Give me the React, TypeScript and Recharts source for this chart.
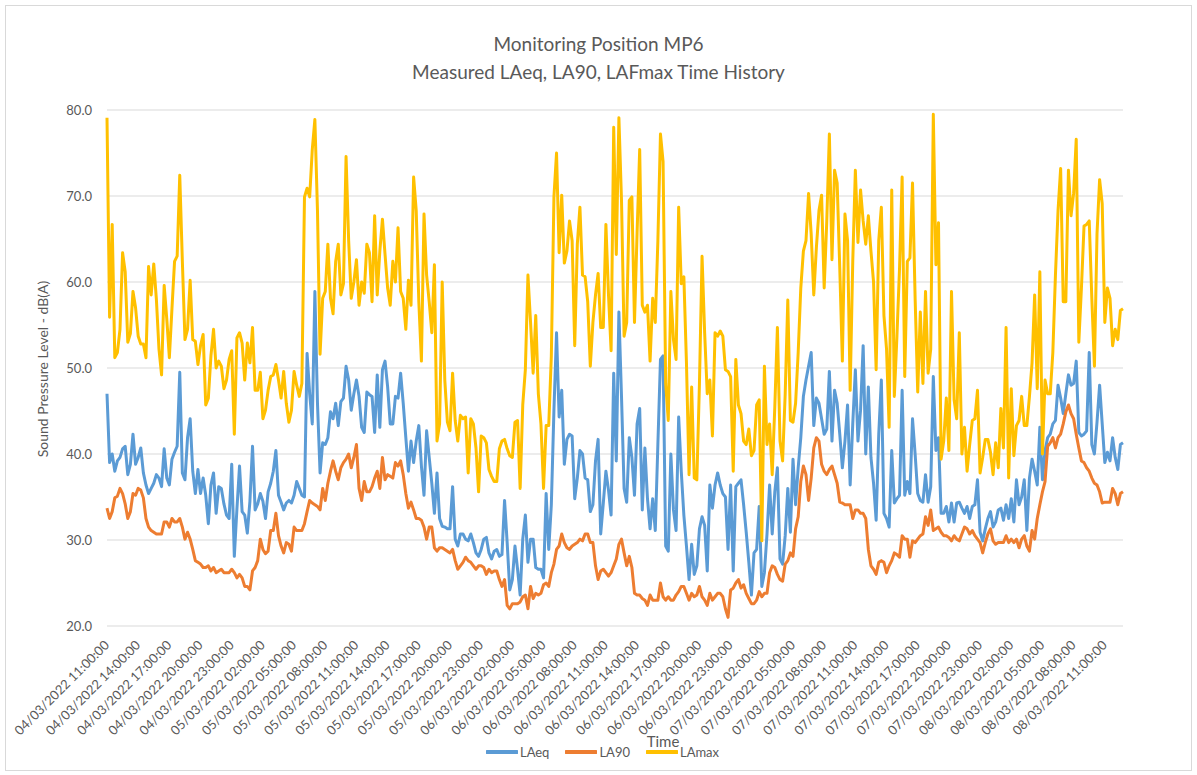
import React from 'react';
import { LineChart, Line, XAxis, YAxis, CartesianGrid } from 'recharts';

// 15-minute readings from 04/03/2022 11:00 to 08/03/2022 12:45
const START_DAY = 4;
const START_MIN = 11 * 60;
const STEP_MIN = 15;

const LAEQ = [
  47.0, 39.0, 40.0, 38.0, 39.2, 39.6, 40.6, 40.9, 37.6, 38.8, 42.3, 38.8,
  39.6, 40.7, 37.8, 36.4, 35.4, 36.0, 36.6, 37.6, 37.2, 36.2, 40.6, 37.2,
  36.4, 39.4, 40.2, 40.9, 49.5, 37.8, 37.0, 41.9, 44.1, 38.0, 35.4, 38.2,
  35.4, 37.2, 35.2, 31.9, 36.4, 37.8, 33.1, 36.2, 36.0, 34.2, 32.9, 32.5,
  38.8, 28.1, 33.6, 38.6, 33.3, 32.9, 30.8, 34.5, 40.9, 33.5, 34.2, 35.4,
  34.5, 32.5, 35.6, 36.6, 38.0, 40.4, 35.2,
  34.4, 33.5, 34.3, 34.6, 34.3, 35.2, 36.8, 36.0, 35.2, 35.0, 51.7, 47.0,
  43.5, 58.9, 45.9, 37.8, 41.3, 41.1, 41.9, 44.9, 44.1, 45.9, 43.3, 46.1,
  46.5, 50.2, 48.6, 45.1, 47.0, 48.6, 46.7, 43.1, 42.5, 47.2, 46.9, 46.7,
  42.5, 49.2, 43.1, 49.8, 50.8, 47.8, 43.5, 43.5, 46.7, 46.5, 49.4, 45.9,
  41.9, 38.0, 41.5, 39.0, 41.5, 43.3, 38.6, 35.2, 42.7, 39.6, 36.6, 33.1,
  37.8, 32.5, 31.6, 31.5, 31.3,
  31.3, 36.2, 30.1, 29.3, 30.7, 30.7, 30.1, 29.9, 30.7, 29.7, 28.5, 28.1,
  28.9, 30.1, 30.3, 28.5, 27.8, 28.7, 28.9, 28.1, 28.3, 34.6, 29.7, 24.2,
  25.4, 29.3, 26.6, 23.6, 30.1, 32.9, 27.4, 30.1, 30.1, 26.8, 26.6, 26.6,
  25.6, 35.4, 28.9, 34.1, 45.1, 54.1, 44.3, 47.4, 38.8, 41.7, 42.3, 42.1,
  34.8, 37.2, 40.4, 40.0, 37.2, 37.0, 33.3, 34.1, 39.2, 41.7, 30.7, 34.3,
  38.0, 35.8, 32.9, 49.4, 39.2, 56.5,
  46.7, 36.0, 34.4, 41.9, 39.6, 35.2, 43.5, 45.3, 33.5, 40.7, 34.8, 31.3,
  34.8, 31.1, 41.1, 51.0, 51.4, 29.3, 28.7, 40.0, 33.5, 31.1, 44.3, 38.0,
  32.9, 29.3, 25.4, 29.5, 26.0, 27.0, 31.3, 32.7, 31.7, 26.4, 36.4, 33.7,
  36.4, 37.8, 36.4, 35.4, 35.0, 28.9, 36.4, 26.4, 36.2, 36.6, 37.0, 34.1,
  30.9, 27.4, 23.6, 28.5, 28.9, 33.9, 24.6, 26.2, 30.7, 36.4, 30.7, 35.6,
  38.4, 27.8, 27.2, 30.5, 36.0,
  30.9, 39.4, 34.1, 38.4, 41.9, 46.7, 48.6, 50.2, 51.8, 43.3, 46.5, 45.9,
  44.1, 42.3, 42.9, 49.6, 41.5, 47.4, 45.9, 42.3, 38.4, 41.5, 45.7, 36.4,
  43.5, 49.8, 41.5, 45.1, 52.6, 40.0, 47.8, 39.6, 36.6, 32.3, 42.3, 48.6,
  33.1, 32.5, 31.5, 40.4, 34.3, 34.8, 35.2, 47.4, 35.2, 36.8, 35.4, 44.1,
  40.0, 35.4, 34.6, 34.4, 37.6, 34.4, 36.2, 49.0, 40.4, 41.9, 33.1, 33.1,
  33.9, 32.1, 34.3, 32.1, 34.3, 34.4,
  33.7, 33.1, 33.9, 32.5, 33.9, 34.1, 37.0, 30.9, 29.9, 31.3, 32.5, 33.3,
  31.5, 32.1, 33.5, 33.7, 32.3, 34.1, 32.5, 34.8, 32.1, 37.0, 34.1, 35.0,
  37.0, 31.1, 37.2, 39.4, 38.0, 36.4, 43.1, 37.0, 40.4, 41.9, 42.3, 43.5,
  43.9, 48.0, 46.5, 44.7, 47.0, 49.2, 48.0, 48.2, 50.8, 42.5, 42.1, 42.3,
  42.7, 51.8, 41.1, 40.0, 43.7, 48.0, 43.5, 39.0, 40.2, 39.2, 41.9, 39.6,
  38.2, 41.1, 41.3,
];

const LA90 = [
  33.7, 32.5, 33.3, 34.9, 35.1, 36.0, 35.4, 34.2, 32.5, 33.3, 35.4, 35.2,
  36.0, 35.8, 34.9, 32.5, 31.5, 31.1, 30.9, 30.7, 30.7, 30.7, 32.1, 32.1,
  31.5, 32.5, 32.1, 32.1, 32.5, 31.5, 30.1, 30.9, 30.1, 28.9, 27.6, 27.4,
  27.2, 26.8, 26.8, 27.0, 26.4, 26.8, 26.2, 26.4, 26.6, 26.2, 26.2, 26.2,
  26.6, 26.2, 25.6, 26.0, 25.6, 24.6, 24.6, 24.2, 26.4, 26.8, 27.6, 30.1,
  28.9, 28.4, 28.7, 31.1, 31.1, 33.1, 30.5,
  29.3, 28.5, 29.7, 29.5, 28.7, 31.5, 31.1, 31.1, 31.1, 31.9, 33.3, 34.6,
  34.3, 34.1, 33.9, 33.5, 36.0, 34.6, 36.6, 38.0, 39.2, 38.0, 37.0, 38.4,
  39.0, 39.4, 40.0, 38.4, 39.6, 41.1, 36.0, 34.6, 36.8, 35.6, 35.6, 36.2,
  37.2, 38.0, 36.0, 39.6, 37.0, 37.6, 37.4, 37.2, 39.0, 38.6, 39.2, 37.6,
  35.4, 33.7, 34.4, 33.5, 32.5, 32.5, 32.3, 31.5, 30.1, 31.5, 31.5, 29.1,
  28.7, 29.1, 29.1, 28.9, 28.7,
  28.5, 28.9, 27.6, 26.6, 27.0, 27.4, 28.0, 27.6, 27.4, 27.0, 26.6, 27.0,
  27.0, 26.8, 26.0, 26.6, 26.2, 26.4, 26.4, 25.4, 24.6, 25.4, 22.4, 22.0,
  22.6, 22.6, 22.6, 22.8, 23.4, 23.6, 22.0, 24.6, 23.2, 23.8, 23.6, 23.8,
  24.8, 25.0, 24.6, 26.2, 27.2, 28.9, 29.3, 30.7, 29.7, 29.1, 28.9, 29.3,
  29.5, 29.7, 30.1, 29.9, 30.7, 30.7, 29.7, 29.7, 27.0, 25.4, 26.4, 26.6,
  26.2, 25.8, 26.2, 27.0, 27.8, 29.5,
  30.1, 28.5, 27.0, 28.1, 26.8, 23.8, 23.6, 23.6, 23.2, 23.0, 22.4, 23.6,
  23.0, 23.0, 23.0, 25.0, 23.4, 23.0, 23.4, 23.0, 23.0, 23.6, 24.0, 24.6,
  24.6, 23.8, 23.0, 23.8, 23.4, 23.6, 24.6, 23.4, 23.0, 22.4, 23.8, 23.0,
  23.4, 23.8, 23.8, 23.4, 22.0, 21.0, 24.2, 24.4, 25.0, 25.4, 24.4, 24.8,
  23.8, 23.2, 22.6, 22.6, 23.0, 24.0, 23.4, 23.8, 23.8, 26.2, 27.0, 26.8,
  26.0, 25.4, 25.2, 27.2, 27.6,
  28.5, 28.1, 31.3, 32.7, 36.8, 38.6, 37.6, 34.6, 37.2, 40.7, 41.9, 41.5,
  38.8, 38.0, 37.6, 38.2, 38.6, 37.6, 36.6, 34.4, 34.3, 34.1, 34.1, 34.1,
  32.5, 33.5, 33.5, 33.1, 33.1, 32.5, 28.9, 27.0, 26.6, 26.0, 27.4, 27.6,
  27.4, 26.2, 27.0, 27.6, 28.5, 28.3, 28.0, 30.5, 30.1, 30.1, 28.0, 29.9,
  29.7, 30.1, 30.5, 30.7, 32.7, 31.7, 33.5, 31.1, 31.3, 31.5, 30.9, 30.5,
  30.5, 30.3, 29.9, 30.5, 30.1, 29.9,
  30.7, 31.5, 31.3, 30.7, 31.1, 30.5, 30.1, 29.7, 28.5, 29.7, 30.7, 31.3,
  29.9, 29.5, 29.7, 29.7, 29.7, 30.5, 29.7, 30.1, 29.7, 30.1, 29.1, 30.1,
  30.5, 29.3, 28.7, 31.1, 30.1, 32.5, 34.1, 35.6, 36.8, 40.9, 41.3, 41.9,
  40.7, 41.9, 42.3, 43.5, 44.9, 45.7, 44.7, 44.1, 42.3, 40.7, 39.2, 39.0,
  38.4, 38.0, 37.2, 36.6, 36.4, 35.6, 34.3, 34.4, 34.4, 34.4, 36.0, 35.4,
  34.1, 35.4, 35.6,
];

const LAMAX = [
  79.1, 55.9, 66.7, 51.2, 51.8, 54.5, 63.4, 61.2, 53.0, 54.0, 58.9, 57.0,
  53.7, 52.8, 52.8, 51.2, 61.8, 58.5, 62.1, 58.0, 52.2, 49.2, 59.6, 55.7,
  51.2, 56.9, 62.4, 63.0, 72.4, 62.4, 53.3, 54.5, 60.2, 53.3, 53.1, 50.4,
  52.6, 53.9, 45.7, 46.5, 51.4, 54.5, 50.0, 50.8, 50.2, 47.6, 48.6, 51.0,
  52.0, 42.3, 53.5, 54.1, 52.9, 48.6, 52.9, 50.6, 54.7, 47.4, 47.4, 49.5,
  44.1, 45.1, 47.4, 49.0, 49.2, 50.4, 48.6,
  46.5, 49.6, 45.9, 43.7, 45.1, 49.6, 48.0, 46.7, 48.2, 69.9, 70.9, 69.9,
  75.4, 78.9, 68.3, 51.6, 58.1, 58.9, 64.4, 58.1, 56.3, 62.4, 64.4, 58.5,
  59.8, 74.6, 64.8, 58.1, 60.0, 62.6, 57.3, 60.0, 58.7, 64.4, 63.4, 57.7,
  67.7, 58.5, 63.6, 67.3, 63.2, 59.3, 57.3, 62.4, 60.0, 66.3, 58.9, 58.1,
  54.5, 60.2, 57.3, 72.2, 68.3, 57.7, 50.8, 67.9, 60.8, 57.7, 54.1, 62.0,
  41.5, 43.5, 60.0, 48.6, 43.7,
  42.7, 49.4, 43.9, 41.5, 44.5, 44.1, 44.3, 37.8, 44.1, 43.5, 40.7, 35.6,
  42.1, 41.9, 41.3, 38.2, 37.4, 36.8, 36.8, 40.6, 41.5, 41.7, 40.6, 39.8,
  39.6, 43.7, 43.9, 36.0, 45.7, 49.8, 60.8, 55.3, 49.4, 56.1, 47.0, 43.5,
  36.0, 43.3, 43.3, 51.4, 69.9, 75.0, 63.4, 70.1, 62.2, 63.6, 67.1, 64.8,
  52.6, 64.4, 68.7, 60.8, 60.6, 57.7, 50.2, 55.3, 58.5, 61.0, 54.7, 54.7,
  66.7, 58.5, 52.0, 78.0, 63.2, 79.1,
  69.5, 53.7, 55.3, 69.5, 69.9, 55.3, 65.7, 75.4, 57.3, 56.5, 57.3, 50.8,
  58.1, 55.3, 64.8, 77.2, 74.0, 48.2, 43.9, 58.9, 53.3, 51.0, 68.7, 59.8,
  60.6, 50.6, 37.6, 47.8, 37.2, 37.0, 48.2, 63.0, 54.1, 47.0, 48.6, 42.1,
  54.1, 53.7, 54.3, 53.7, 49.8, 49.6, 49.0, 38.0, 51.0, 45.7, 44.7, 41.5,
  41.1, 42.9, 39.8, 40.4, 45.7, 46.3, 29.9, 50.2, 41.1, 43.5, 37.6, 45.5,
  54.7, 41.5, 39.2, 47.0, 57.9,
  43.9, 43.7, 45.9, 51.8, 59.3, 63.6, 64.8, 70.3, 65.6, 58.5, 64.0, 68.3,
  70.1, 59.3, 67.1, 77.2, 62.6, 73.0, 71.5, 61.6, 50.8, 67.9, 64.8, 47.4,
  62.4, 73.0, 64.6, 70.7, 67.1, 64.4, 67.7, 63.6, 60.0, 49.8, 64.8, 68.7,
  56.1, 52.2, 43.1, 70.7, 46.7, 53.7, 61.6, 72.2, 49.0, 62.4, 62.8, 71.5,
  58.1, 47.2, 56.5, 48.2, 58.9, 49.4, 52.2, 79.5, 62.0, 66.9, 39.4, 41.5,
  46.5, 40.4, 58.9, 46.3, 44.1, 54.1,
  40.0, 43.1, 38.0, 41.1, 43.9, 44.1, 47.4, 37.8, 39.6, 41.7, 41.7, 40.2,
  37.6, 41.3, 38.4, 45.3, 40.7, 54.7, 37.2, 47.6, 39.8, 43.3, 43.9, 46.7,
  43.3, 43.3, 46.7, 50.6, 58.5, 47.6, 61.2, 40.0, 48.6, 47.0, 47.0, 51.8,
  60.8, 68.3, 73.2, 57.7, 57.7, 73.0, 67.7, 70.3, 76.6, 53.0, 59.3, 66.5,
  66.7, 67.1, 58.1, 50.2, 65.6, 71.9, 69.1, 55.3, 59.3, 58.1, 52.6, 54.5,
  53.3, 56.7, 56.9,
];

const Y_TICKS = [20, 30, 40, 50, 60, 70, 80];

const pad = (n: number) => String(n).padStart(2, '0');
const timeLabel = (i: number) => {
  const total = START_MIN + i * STEP_MIN;
  const day = START_DAY + Math.floor(total / 1440);
  const m = total % 1440;
  return `${pad(day)}/03/2022 ${pad(Math.floor(m / 60))}:${pad(m % 60)}:00`;
};

const data = LAEQ.map((v, i) => ({
  t: timeLabel(i),
  laeq: v,
  la90: LA90[i],
  lamax: LAMAX[i],
}));

const FONT = 'Lato, "Open Sans", sans-serif';
const TEXT = '#595959';
const PLOT_LEFT = 107;
const PLOT_BOTTOM = 626;

const XTick = ({ x, payload }: any) => (
  <text
    x={x + 3}
    y={PLOT_BOTTOM + 20}
    transform={`rotate(-45, ${x + 3}, ${PLOT_BOTTOM + 20})`}
    textAnchor="end"
    fontSize={13}
    fontFamily={FONT}
    fill={TEXT}
  >
    {payload.value}
  </text>
);

const YTick = ({ y, payload }: any) => (
  <text x={PLOT_LEFT - 15} y={y + 5} textAnchor="end" fontSize={13} fontFamily={FONT} fill={TEXT}>
    {payload.value.toFixed(1)}
  </text>
);

const SERIES = [
  { key: 'laeq', name: 'LAeq', color: '#5B9BD5' },
  { key: 'la90', name: 'LA90', color: '#ED7D31' },
  { key: 'lamax', name: 'LAmax', color: '#FFC000' },
];

export default function App() {
  return (
    <div style={{ position: 'absolute', left: 0, top: 0, width: 1197, height: 775, background: '#fff', fontFamily: FONT }}>
      <div style={{ position: 'absolute', left: 5, top: 5, width: 1185, height: 764, border: '1px solid #d9d9d9' }} />
      <div style={{ position: 'absolute', left: 0, width: 1197, top: 30, textAlign: 'center', color: TEXT, fontSize: 19, lineHeight: '28px' }}>
        Monitoring Position MP6
        <br />
        Measured LAeq, LA90, LAFmax Time History
      </div>
      <div
        style={{
          position: 'absolute', left: 42, top: 369, transform: 'translate(-50%, -50%) rotate(-90deg)',
          whiteSpace: 'nowrap', color: TEXT, fontSize: 14,
        }}
      >
        Sound Pressure Level - dB(A)
      </div>
      <div style={{ position: 'absolute', left: 663, top: 741, transform: 'translate(-50%, -50%)', color: TEXT, fontSize: 15 }}>
        Time
      </div>
      <div style={{ position: 'absolute', left: 0, top: 0 }}>
        <LineChart width={1197} height={775} data={data} margin={{ top: 110, right: 74, bottom: 39, left: 40 }}>
          <CartesianGrid vertical={false} stroke="#d9d9d9" />
          <XAxis dataKey="t" interval={11} axisLine={false} tickLine={false} height={110} tick={<XTick />} />
          <YAxis
            domain={[20, 80]}
            ticks={Y_TICKS}
            axisLine={false}
            tickLine={false}
            width={67}
            tick={<YTick />}
            allowDataOverflow
          />
          {SERIES.map((s) => (
            <Line
              key={s.key}
              dataKey={s.key}
              name={s.name}
              stroke={s.color}
              strokeWidth={3}
              dot={false}
              strokeLinejoin="round"
              isAnimationActive={false}
            />
          ))}
        </LineChart>
      </div>
      <div
        style={{
          position: 'absolute', left: 0, width: 1197, top: 744, display: 'flex', justifyContent: 'center',
          gap: 16, color: TEXT, fontSize: 13, lineHeight: '16px', paddingLeft: 4,
        }}
      >
        {SERIES.map((s) => (
          <div key={s.key} style={{ display: 'flex', alignItems: 'center' }}>
            <svg width={32} height={16}>
              <line x1={1} y1={8} x2={31} y2={8} stroke={s.color} strokeWidth={4} strokeLinecap="round" />
            </svg>
            <span style={{ marginLeft: 2 }}>{s.name}</span>
          </div>
        ))}
      </div>
    </div>
  );
}
